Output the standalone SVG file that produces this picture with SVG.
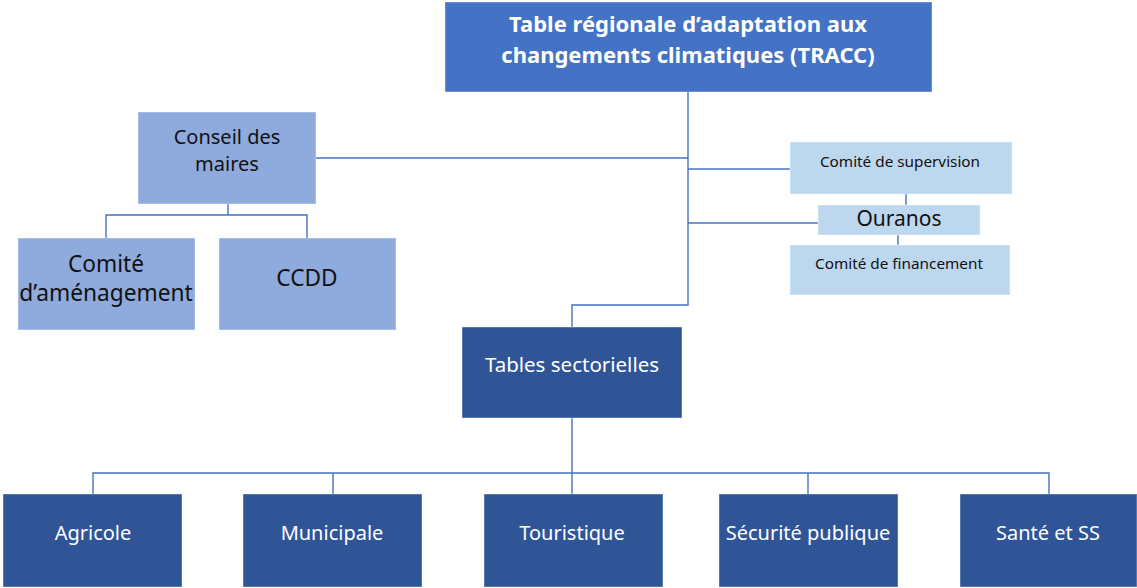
<svg xmlns="http://www.w3.org/2000/svg" width="1137" height="588" viewBox="0 0 1137 588">
<style>
.c{fill:none;stroke:#4472C4;stroke-width:1.4}
.t{font-family:"Noto Sans","Open Sans",sans-serif;text-anchor:middle}
.w{fill:#FFFFFF}
.k{fill:#111111}
.main{fill:#4472C4}
.mid{fill:#8FAADC}
.lt{fill:#BDD7EE}
.dk{fill:#2F5597}
rect{stroke:#FFFFFF;stroke-opacity:0.4;stroke-width:1}
</style>
<rect x="0" y="0" width="1137" height="588" fill="#FFFFFF" stroke="none"/>
<g id="connectors">
<path class="c" d="M688 92 V305 H572 V327"/>
<path class="c" d="M316 158 H688"/>
<path class="c" d="M688 169 H790"/>
<path class="c" d="M688 223 H818"/>
<path class="c" d="M906 194 V205"/>
<path class="c" d="M898 235 V245"/>
<path class="c" d="M228 204 V215 M106 238 V215 H307 V238"/>
<path class="c" d="M572 418 V494 M93 494 V473 H1049 V494 M333 473 V494 M808 473 V494"/>
</g>
<g id="tracc">
<rect class="main" x="445" y="2" width="487" height="90"/>
<text class="t w" x="688" y="32" font-size="22" font-weight="bold">Table régionale d’adaptation aux</text>
<text class="t w" x="688" y="63" font-size="22" font-weight="bold">changements climatiques (TRACC)</text>
</g>
<g id="conseil">
<rect class="mid" x="138" y="112" width="178" height="92"/>
<text class="t k" x="227" y="144" font-size="20">Conseil des</text>
<text class="t k" x="227" y="171" font-size="20">maires</text>
</g>
<g id="amenagement">
<rect class="mid" x="18" y="238" width="177" height="92"/>
<text class="t k" x="106" y="272" font-size="22.7">Comité</text>
<text class="t k" x="106" y="301" font-size="22.7">d’aménagement</text>
</g>
<g id="ccdd">
<rect class="mid" x="219" y="238" width="177" height="92"/>
<text class="t k" x="307" y="286" font-size="22.7">CCDD</text>
</g>
<g id="supervision">
<rect class="lt" x="790" y="142" width="222" height="52"/>
<text class="t k" x="900" y="167" font-size="15.3">Comité de supervision</text>
</g>
<g id="ouranos">
<rect class="lt" x="818" y="205" width="162" height="30"/>
<text class="t k" x="899" y="226" font-size="21">Ouranos</text>
</g>
<g id="financement">
<rect class="lt" x="790" y="245" width="220" height="50"/>
<text class="t k" x="899" y="269" font-size="15.3">Comité de financement</text>
</g>
<g id="sectorielles">
<rect class="dk" x="462" y="327" width="220" height="91"/>
<text class="t w" x="572" y="372" font-size="20.5">Tables sectorielles</text>
</g>
<g id="agricole">
<rect class="dk" x="3" y="494" width="179" height="93"/>
<text class="t w" x="93" y="540" font-size="20">Agricole</text>
</g>
<g id="municipale">
<rect class="dk" x="243" y="494" width="179" height="93"/>
<text class="t w" x="332" y="540" font-size="20">Municipale</text>
</g>
<g id="touristique">
<rect class="dk" x="484" y="494" width="179" height="93"/>
<text class="t w" x="572" y="540" font-size="20">Touristique</text>
</g>
<g id="securite">
<rect class="dk" x="719" y="494" width="179" height="93"/>
<text class="t w" x="808" y="540" font-size="20">Sécurité publique</text>
</g>
<g id="sante">
<rect class="dk" x="960" y="494" width="177" height="93"/>
<text class="t w" x="1048" y="540" font-size="20">Santé et SS</text>
</g>
</svg>
